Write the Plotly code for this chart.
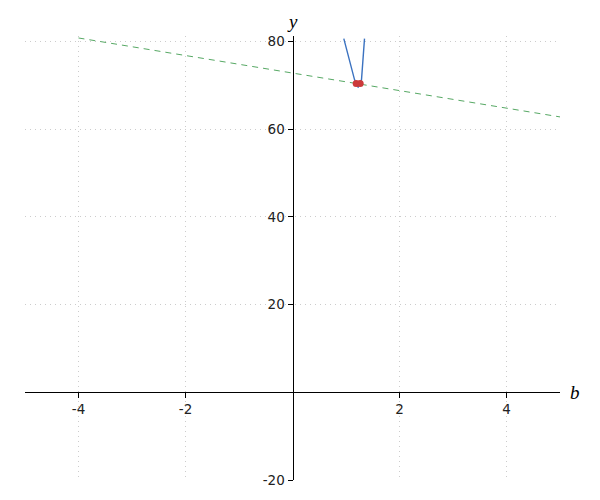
import plotly.graph_objects as go

# data
curve_b = [0.959, 1.159, 1.228, 1.29, 1.346]
curve_y = [80.66, 71.3, 69.5, 71.3, 80.66]
tangent_b = [-4, 5]
tangent_y = [80.8, 62.8]
point_b = [1.19, 1.265]
point_y = [70.4, 70.4]
x_ticks = [-4, -2, 2, 4]
x_ticklabels = ["-4", "-2", "2", "4"]
y_ticks = [-20, 20, 40, 60, 80]
y_ticklabels = ["-20", "20", "40", "60", "80"]

xr = [-5, 5]
yr = [-20, 81.25]

fig = go.Figure()
fig.add_trace(go.Scatter(x=tangent_b, y=tangent_y, mode="lines",
                         line=dict(color="#3a9a4a", width=1, dash="6px,5px"), opacity=0.85))
fig.add_trace(go.Scatter(x=curve_b, y=curve_y, mode="lines",
                         line=dict(color="#3b72c0", width=1.4)))
fig.add_trace(go.Scatter(x=point_b, y=point_y, mode="markers",
                         marker=dict(color="#cc3a3a", size=7, line=dict(width=0))))

fig.update_layout(
    width=600, height=500,
    margin=dict(l=17, r=48, t=28, b=28),
    plot_bgcolor="white", paper_bgcolor="white",
    showlegend=False,
    font=dict(family="DejaVu Sans", size=13, color="#222"),
    xaxis=dict(range=xr, tickvals=x_ticks, ticktext=x_ticklabels,
               showline=True, linecolor="black", linewidth=1,
               ticks="outside", ticklen=5, tickcolor="black",
               tickfont=dict(size=13.5),
               showgrid=True, gridcolor="#cccccc", griddash="1px,4px", gridwidth=1,
               zeroline=False, anchor="free",
               position=(0 - yr[0]) / (yr[1] - yr[0])),
    yaxis=dict(range=yr, tickvals=y_ticks, ticktext=y_ticklabels,
               showline=True, linecolor="black", linewidth=1,
               ticks="outside", ticklen=5, tickcolor="black",
               tickfont=dict(size=13.5),
               showgrid=True, gridcolor="#cccccc", griddash="1px,4px", gridwidth=1,
               zeroline=False, anchor="free",
               position=(0 - xr[0]) / (xr[1] - xr[0])),
    annotations=[
        dict(text="<i>b</i>", x=1, xref="paper", y=0, yref="y", xanchor="left",
             xshift=8, yanchor="middle", showarrow=False,
             font=dict(family="Liberation Serif", size=19, color="black")),
        dict(text="<i>y</i>", x=0, xref="x", y=1, yref="paper", xanchor="center",
             yanchor="bottom", yshift=2, showarrow=False,
             font=dict(family="Liberation Serif", size=19, color="black")),
    ],
)

fig.write_html("out.html")
